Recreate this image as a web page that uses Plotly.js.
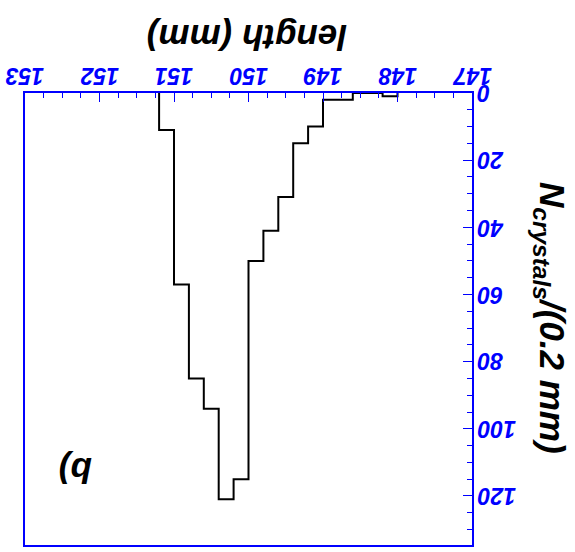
<!DOCTYPE html>
<html>
<head>
<meta charset="utf-8">
<script src="https://cdn.plot.ly/plotly-3.0.1.min.js"></script>
<style>html,body{margin:0;padding:0;background:#fff;}#plot{width:575px;height:552px;}</style>
</head>
<body>
<div id="plot"></div>
<script>
// Bin edges (mm) and crystal counts per 0.2 mm bin
const binEdges = [148.0, 148.2, 148.4, 148.6, 148.8, 149.0, 149.2, 149.4, 149.6, 149.8, 150.0, 150.2, 150.4, 150.6, 150.8, 151.0, 151.2];
const counts   = [1, 0, 0, 2, 2, 10, 15, 31, 41, 50, 115, 121, 94, 85, 57, 11];
const xTickVals = [147, 148, 149, 150, 151, 152, 153];
const xTickText = ["147", "148", "149", "150", "151", "152", "153"];
const yTickVals = [0, 20, 40, 60, 80, 100, 120];
const yTickText = ["0", "20", "40", "60", "80", "100", "120"];
const xTitle = "length (mm)";
const yTitle = "N<sub>crystals</sub>/(0.2 mm)";
const panelLabel = "b)";

// step outline of the histogram
const xs = [binEdges[0]].concat(binEdges);
const ys = [0].concat(counts).concat([0]);

const blue = "#0000ff";
const fam = "Liberation Sans";
const tickFont = {family: fam, size: 23, color: blue, weight: 700, style: "italic"};
const titleFont = {family: fam, size: 35, color: "#000", weight: 700, style: "italic"};

const trace = {
  x: xs, y: ys, type: "scatter", mode: "lines",
  line: {shape: "hv", color: "#000", width: 2},
  hoverinfo: "skip", showlegend: false
};

// upside-down tick labels drawn as annotations on the axes' own scales
const annotations = [];
xTickVals.forEach((v, i) => annotations.push({
  text: xTickText[i], xref: "x", yref: "paper", x: v, y: 1,
  xanchor: "center", yanchor: "bottom", yshift: 2,
  showarrow: false, textangle: 180, font: tickFont
}));
yTickVals.forEach((v, i) => annotations.push({
  text: yTickText[i], xref: "paper", yref: "y", x: 1, y: v,
  xanchor: "left", yanchor: "middle", xshift: 3,
  showarrow: false, textangle: 180, font: tickFont
}));
annotations.push(
  {text: xTitle, xref: "paper", yref: "paper", x: 0, y: 1, xanchor: "center", yanchor: "middle",
   xshift: 222, yshift: 55, showarrow: false, textangle: 180, font: titleFont},
  {text: yTitle, xref: "paper", yref: "paper", x: 1, y: 1, xanchor: "center", yanchor: "middle",
   xshift: 78, yshift: -225, showarrow: false, textangle: 90, font: titleFont},
  {text: panelLabel, xref: "paper", yref: "paper", x: 0, y: 0, xanchor: "center", yanchor: "middle",
   xshift: 51, yshift: 74, showarrow: false, textangle: 180, font: titleFont}
);

const layout = {
  width: 575, height: 552,
  margin: {l: 25, r: 103, t: 93, b: 7, pad: 0},
  paper_bgcolor: "#fff", plot_bgcolor: "#fff",
  showlegend: false,
  xaxis: {
    range: [153, 147], side: "top",
    showgrid: false, zeroline: false,
    showline: true, linecolor: blue, linewidth: 2, mirror: true,
    ticks: "inside", ticklen: 9, tickwidth: 1, tickcolor: blue,
    tickvals: xTickVals, showticklabels: false,
    minor: {dtick: 0.25, tick0: 147, ticks: "inside", ticklen: 5, tickwidth: 1, tickcolor: blue, showgrid: false}
  },
  yaxis: {
    range: [134.6, 0], side: "right",
    showgrid: false, zeroline: false,
    showline: true, linecolor: blue, linewidth: 2, mirror: true,
    ticks: "inside", ticklen: 9, tickwidth: 1, tickcolor: blue,
    tickvals: yTickVals, showticklabels: false,
    minor: {dtick: 5, tick0: 0, ticks: "inside", ticklen: 5, tickwidth: 1, tickcolor: blue, showgrid: false}
  },
  annotations: annotations
};

Plotly.newPlot("plot", [trace], layout, {staticPlot: true, displayModeBar: false});
</script>
</body>
</html>
